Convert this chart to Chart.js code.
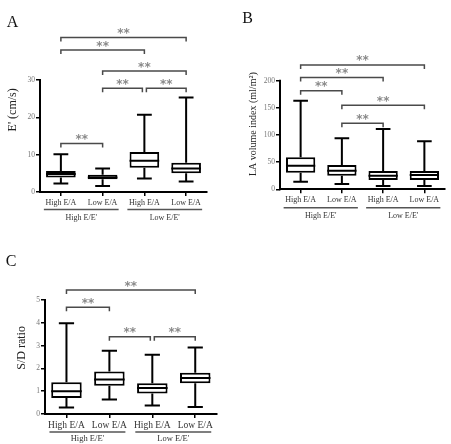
<!DOCTYPE html>
<html>
<head>
<meta charset="utf-8">
<script src="https://cdn.jsdelivr.net/npm/chart.js@4.4.1/dist/chart.umd.min.js"></script>
<style>
  html, body { margin: 0; padding: 0; background: #fff; }
  body { width: 451px; height: 444px; position: relative; overflow: hidden; }
  .pane { position: absolute; }
</style>
</head>
<body>
<div class="pane" style="left:0;top:0;width:225px;height:225px"><canvas id="cA" width="225" height="225"></canvas></div>
<div class="pane" style="left:225px;top:0;width:226px;height:225px"><canvas id="cB" width="226" height="225"></canvas></div>
<div class="pane" style="left:0;top:222px;width:230px;height:222px"><canvas id="cC" width="230" height="222"></canvas></div>
<script>
// ---------- data ----------
const categories = ['High E/A', 'Low E/A', 'High E/A', 'Low E/A'];
const groupLabels = ["High E/E'", "Low E/E'"];

// Panel A: E' (cm/s)
const aMin = [2.3, 1.6, 3.6, 2.8];
const aQ1  = [3.9, 3.4, 6.5, 5.0];
const aMed = [4.8, 3.9, 8.4, 6.3];
const aQ3  = [5.6, 4.6, 10.7, 7.8];
const aMax = [10.1, 6.3, 20.7, 25.3];
const aTicks = [0, 10, 20, 30];
const aBrackets = [[0, 3, 41.4], [0, 2, 38.0], [1, 3, 32.4], [1, 2, 27.8], [2, 3, 27.8], [0, 1, 13.0]];

// Panel B: LA volume index (ml/m2)
const bMin = [14, 9.8, 6, 6];
const bQ1  = [30.6, 25, 17, 17];
const bMed = [43.5, 34.3, 25, 26.3];
const bQ3  = [59, 44.8, 33.7, 33.7];
const bMax = [163, 94, 111, 88.4];
const bTicks = [0, 50, 100, 150, 200];
const bBrackets = [[0, 3, 229], [0, 2, 206], [0, 1, 181.6], [1, 3, 154.7], [1, 2, 121.5]];

// Panel C: S/D ratio
const cMin = [0.29, 0.64, 0.37, 0.31];
const cQ1  = [0.70, 1.24, 0.90, 1.35];
const cMed = [1.00, 1.51, 1.14, 1.58];
const cQ3  = [1.39, 1.86, 1.35, 1.81];
const cMax = [3.98, 2.78, 2.60, 2.92];
const cTicks = [0, 1, 2, 3, 4, 5];
const cBrackets = [[0, 3, 5.44], [0, 1, 4.68], [1, 2, 3.39], [2, 3, 3.39]];

// ---------- drawing ----------
const SERIF = "'Liberation Serif', 'DejaVu Serif', serif";

const boxPlugin = {
  id: 'boxExtras',
  afterDatasetsDraw(chart, args, o) {
    const ctx = chart.ctx;
    const xs = chart.scales.x, ys = chart.scales.y;
    const meta = chart.getDatasetMeta(0);
    const ca = chart.chartArea;
    ctx.save();
    // y axis line (only up to last tick)
    ctx.strokeStyle = '#000';
    ctx.lineWidth = 2;
    ctx.beginPath();
    ctx.moveTo(ca.left, ys.getPixelForValue(0) + 1);
    ctx.lineTo(ca.left, ys.getPixelForValue(o.ticks[o.ticks.length - 1]) - 1);
    ctx.stroke();
    // whiskers + medians
    ctx.lineWidth = o.lw;
    o.q1.forEach((q1, i) => {
      const x = xs.getPixelForValue(i);
      const hw = meta.data[i].width / 2;
      const cap = hw * 0.5;
      const yMin = ys.getPixelForValue(o.min[i]);
      const yMax = ys.getPixelForValue(o.max[i]);
      const yQ1 = ys.getPixelForValue(q1);
      const yQ3 = ys.getPixelForValue(o.q3[i]);
      const yMed = ys.getPixelForValue(o.med[i]);
      ctx.beginPath();
      ctx.moveTo(x, yQ3); ctx.lineTo(x, yMax);
      ctx.moveTo(x - cap, yMax); ctx.lineTo(x + cap, yMax);
      ctx.moveTo(x, yQ1); ctx.lineTo(x, yMin);
      ctx.moveTo(x - cap, yMin); ctx.lineTo(x + cap, yMin);
      ctx.moveTo(x - hw, yMed); ctx.lineTo(x + hw, yMed);
      ctx.stroke();
    });
    // significance brackets
    ctx.strokeStyle = '#4a4a4a';
    ctx.lineWidth = 1.5;
    ctx.fillStyle = '#8a8a8a';
    ctx.font = `bold ${o.starSize}px 'DejaVu Sans', sans-serif`;
    ctx.textAlign = 'center';
    ctx.textBaseline = 'alphabetic';
    o.brackets.forEach(([i, j, v]) => {
      const y = ys.getPixelForValue(v);
      let x1 = xs.getPixelForValue(i), x2 = xs.getPixelForValue(j);
      o.brackets.forEach(([i2, j2, v2]) => {
        if (v2 === v && j2 === i) x1 += 2;
        if (v2 === v && i2 === j) x2 -= 2;
      });
      ctx.beginPath();
      ctx.moveTo(x1, y + 4); ctx.lineTo(x1, y); ctx.lineTo(x2, y); ctx.lineTo(x2, y + 4);
      ctx.stroke();
      ctx.fillText('**', (x1 + x2) / 2, y - 0.5);
    });
    // group underlines + labels
    const gy = ca.bottom + o.groupLine;
    ctx.strokeStyle = '#555';
    ctx.lineWidth = 1.5;
    ctx.fillStyle = '#333';
    ctx.font = `${o.groupSize}px ${SERIF}`;
    ctx.textBaseline = 'middle';
    o.groups.forEach((g, k) => {
      const xa = xs.getPixelForValue(2 * k) - 17;
      const xb = xs.getPixelForValue(2 * k + 1) + 16;
      ctx.beginPath();
      ctx.moveTo(xa, gy); ctx.lineTo(xb, gy);
      ctx.stroke();
      ctx.fillText(g, (xa + xb) / 2, gy + o.groupGap);
    });
    // panel letter
    ctx.fillStyle = '#111';
    ctx.font = `16px ${SERIF}`;
    ctx.textAlign = 'center';
    ctx.textBaseline = 'middle';
    ctx.fillText(o.letter, o.letterX, o.letterY);
    ctx.restore();
  }
};

function makePanel(id, p) {
  new Chart(document.getElementById(id), {
    type: 'bar',
    data: {
      labels: categories,
      datasets: [{
        data: p.q1.map((q, i) => [q, p.q3[i]]),
        backgroundColor: '#fff',
        borderColor: '#000',
        borderWidth: p.lw,
        borderSkipped: false,
        barPercentage: 0.71,
        categoryPercentage: 1
      }]
    },
    options: {
      responsive: false,
      animation: false,
      layout: { padding: { left: 0, right: p.padRight, top: p.padTop, bottom: 0 } },
      plugins: { legend: { display: false }, tooltip: { enabled: false }, boxExtras: p },
      scales: {
        x: {
          type: 'category',
          offset: true,
          grid: { offset: false, drawOnChartArea: false, tickLength: 4, color: '#000', lineWidth: 1.5 },
          border: { color: '#000', width: 2 },
          ticks: { color: '#333', font: { family: SERIF, size: p.labelSize }, padding: p.labelPad, maxRotation: 0, autoSkip: false },
          afterFit: s => { s.height = p.xAxisH; }
        },
        y: {
          type: 'linear',
          min: 0,
          max: p.yMax,
          afterBuildTicks: s => { s.ticks = p.ticks.map(v => ({ value: v })); },
          grid: { drawOnChartArea: false, tickLength: 4, color: '#000', lineWidth: 1.5 },
          border: { display: false },
          ticks: { color: '#777', font: { family: SERIF, size: 7.5 }, padding: 1, autoSkip: false },
          title: { display: true, text: p.title, color: '#222', font: { family: SERIF, size: p.titleSize }, padding: { top: p.titlePad, bottom: 0 } },
          afterFit: s => { s.width = p.areaLeft; }
        }
      }
    },
    plugins: [boxPlugin]
  });
}

makePanel('cA', {
  min: aMin, q1: aQ1, med: aMed, q3: aQ3, max: aMax, ticks: aTicks, brackets: aBrackets, groups: groupLabels,
  yMax: 44, title: "E' (cm/s)", titleSize: 12, titlePad: 6,
  areaLeft: 40, padRight: 18, padTop: 27.7, xAxisH: 33,
  labelSize: 8, labelPad: 2, groupSize: 8, groupLine: 17.5, groupGap: 8.5, starSize: 12, lw: 2,
  letter: 'A', letterX: 12.5, letterY: 23
});
makePanel('cB', {
  min: bMin, q1: bQ1, med: bMed, q3: bQ3, max: bMax, ticks: bTicks, brackets: bBrackets, groups: groupLabels,
  yMax: 240, title: 'LA volume index (ml/m²)', titleSize: 10, titlePad: 22,
  areaLeft: 55, padRight: 6, padTop: 59.0, xAxisH: 35.7,
  labelSize: 8, labelPad: 2, groupSize: 8, groupLine: 18.4, groupGap: 8, starSize: 12, lw: 2,
  letter: 'B', letterX: 22.5, letterY: 18.5
});
makePanel('cC', {
  min: cMin, q1: cQ1, med: cMed, q3: cQ3, max: cMax, ticks: cTicks, brackets: cBrackets, groups: groupLabels,
  yMax: 5.8, title: 'S/D ratio', titleSize: 12, titlePad: 14.5,
  areaLeft: 45, padRight: 13.3, padTop: 59.8, xAxisH: 30,
  labelSize: 9.5, labelPad: 2, groupSize: 8.5, groupLine: 18, groupGap: 7, starSize: 12, lw: 2,
  letter: 'C', letterX: 11, letterY: 39.5
});
</script>
</body>
</html>
